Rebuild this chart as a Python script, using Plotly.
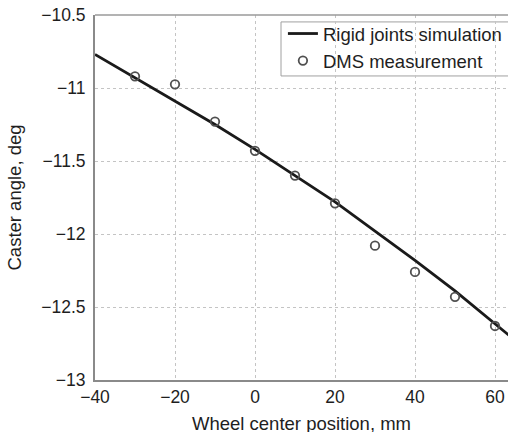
import plotly.graph_objects as go

# Simulation curve
sim_x = [-40, -30, -20, -10, 0, 10, 20, 30, 40, 50, 60, 70]
sim_y = [-10.77, -10.93, -11.09, -11.25, -11.42, -11.60, -11.78, -11.98, -12.18, -12.39, -12.61, -12.84]

# Measurement points
meas_x = [-30, -20, -10, 0, 10, 20, 30, 40, 50, 60]
meas_y = [-10.92, -10.975, -11.23, -11.43, -11.60, -11.79, -12.08, -12.26, -12.43, -12.63]

x_ticks = [-40, -20, 0, 20, 40, 60]
x_labels = ["\u221240", "\u221220", "0", "20", "40", "60"]
y_ticks = [-13, -12.5, -12, -11.5, -11, -10.5]
y_labels = ["\u221213", "\u221212.5", "\u221212", "\u221211.5", "\u221211", "\u221210.5"]
x_title = "Wheel center position, mm"
y_title = "Caster angle, deg"

font = "Liberation Sans, Arial, sans-serif"
txt = "#1e1e1e"

fig = go.Figure()
fig.add_trace(go.Scatter(x=sim_x, y=sim_y, mode="lines", name="Rigid joints simulation",
                         line=dict(color="#1a1a1a", width=2.8)))
fig.add_trace(go.Scatter(x=meas_x, y=meas_y, mode="markers", name="DMS measurement",
                         marker=dict(symbol="circle-open", size=8.5, color="#505050",
                                     line=dict(width=1.8, color="#505050"))))

grid = dict(showgrid=True, gridcolor="#c4c4c4", griddash="dot", gridwidth=1, zeroline=False)
fig.update_xaxes(range=[-40, 63.25], tickvals=x_ticks, ticktext=x_labels,
                 showline=True, linecolor="#8a8a8a", linewidth=2, mirror=False,
                 ticks="", ticklabelstandoff=0,
                 tickfont=dict(size=17.5, color=txt, family=font), **grid)
fig.update_yaxes(range=[-13, -10.5], tickvals=y_ticks, ticktext=y_labels,
                 showline=True, linecolor="#8a8a8a", linewidth=2, mirror=False,
                 ticks="", ticklabelstandoff=4,
                 title=dict(text=y_title, standoff=15,
                            font=dict(size=18.5, color=txt, family=font)),
                 tickfont=dict(size=17.5, color=txt, family=font), **grid)

# x-axis title placed as annotation near the bottom edge like the original
fig.add_annotation(text=x_title, xref="paper", yref="paper", x=0.5, y=-0.085,
                   xanchor="center", yanchor="top", showarrow=False,
                   font=dict(size=18.5, color=txt, family=font))

# top frame line
fig.add_shape(type="line", xref="paper", yref="paper", x0=0, x1=1, y0=1, y1=1,
              line=dict(color="#9a9a9a", width=1.5))
# legend box
fig.add_shape(type="rect", xref="paper", yref="paper", x0=0.4504, x1=1.05, y0=0.833, y1=0.981,
              line=dict(color="#a0a0a0", width=1), fillcolor="white", layer="between")

fig.update_layout(
    width=508, height=432,
    margin=dict(l=95, r=0, t=15, b=52, autoexpand=False),
    plot_bgcolor="white", paper_bgcolor="white",
    font=dict(family=font, size=18, color=txt),
    showlegend=True,
    legend=dict(x=0.455, y=1.0, xanchor="left", yanchor="top",
                bgcolor="rgba(0,0,0,0)", borderwidth=0,
                font=dict(size=18.5, color=txt, family=font),
                itemwidth=30, tracegroupgap=0),
)

fig.write_html("out.html", config={"displayModeBar": False},
               post_script="document.body.style.margin='0';document.body.style.overflow='hidden';")
